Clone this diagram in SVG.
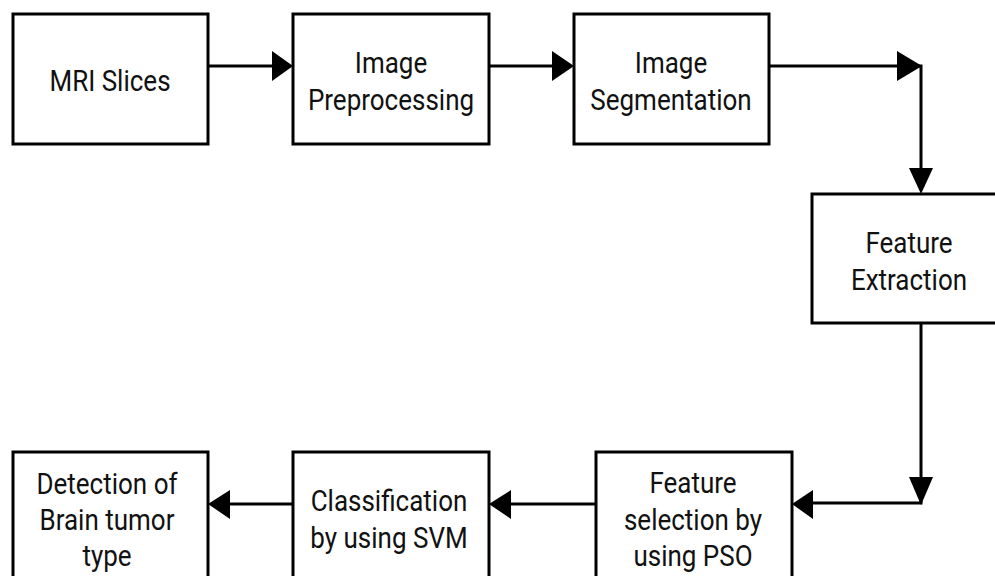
<svg xmlns="http://www.w3.org/2000/svg" width="995" height="576" viewBox="0 0 995 576">
<defs>
<style>
.box{fill:#fff;stroke:#000;stroke-width:3}
.ln{fill:none;stroke:#000;stroke-width:3}
.ah{fill:#000}
text{font-family:Roboto,"Liberation Sans",sans-serif;font-size:26px;fill:#111;text-anchor:middle}
</style>
</defs>
<rect width="995" height="576" fill="#fff"/>
<g id="connectors">
<line class="ln" x1="208" y1="66" x2="275" y2="66"/>
<polygon class="ah" points="272,51 293,66 272,81"/>
<line class="ln" x1="489" y1="66" x2="555" y2="66"/>
<polygon class="ah" points="552,51 574,66 552,81"/>
<polyline class="ln" points="769,66 921,66 921,172"/>
<polygon class="ah" points="897,51 922,66 897,81"/>
<polygon class="ah" points="909,168 921,194 933,168"/>
<polyline class="ln" points="921,323 921,503 810,503"/>
<polygon class="ah" points="909,477 921,505 933,477"/>
<polygon class="ah" points="813,490 792,504 813,519"/>
<line class="ln" x1="596" y1="504" x2="508" y2="504"/>
<polygon class="ah" points="511,490 489,504 511,519"/>
<line class="ln" x1="293" y1="504" x2="227" y2="504"/>
<polygon class="ah" points="230,490 208,504 230,519"/>
</g>
<g id="n1">
<rect class="box" x="13" y="14" width="195" height="130"/>
<text transform="translate(110,91) scale(1,1.12)">MRI Slices</text>
</g>
<g id="n2">
<rect class="box" x="293" y="14" width="196" height="130"/>
<text transform="translate(391,73) scale(1,1.12)">Image</text>
<text transform="translate(391,110) scale(1,1.12)">Preprocessing</text>
</g>
<g id="n3">
<rect class="box" x="574" y="14" width="195" height="130"/>
<text transform="translate(671,73) scale(1,1.12)">Image</text>
<text transform="translate(671,110) scale(1,1.12)">Segmentation</text>
</g>
<g id="n4">
<rect class="box" x="812" y="194" width="200" height="129"/>
<text transform="translate(909,253) scale(1,1.12)">Feature</text>
<text transform="translate(909,290) scale(1,1.12)">Extraction</text>
</g>
<g id="n5">
<rect class="box" x="596" y="452" width="196" height="140"/>
<text transform="translate(693,493) scale(1,1.12)">Feature</text>
<text transform="translate(693,530) scale(1,1.12)">selection by</text>
<text transform="translate(693,566) scale(1,1.12)">using PSO</text>
</g>
<g id="n6">
<rect class="box" x="293" y="452" width="196" height="140"/>
<text transform="translate(389,511) scale(1,1.12)">Classification</text>
<text transform="translate(389,548) scale(1,1.12)">by using SVM</text>
</g>
<g id="n7">
<rect class="box" x="13" y="452" width="195" height="140"/>
<text transform="translate(107,494) scale(1,1.12)">Detection of</text>
<text transform="translate(107,530) scale(1,1.12)">Brain tumor</text>
<text transform="translate(107,566) scale(1,1.12)">type</text>
</g>
</svg>
